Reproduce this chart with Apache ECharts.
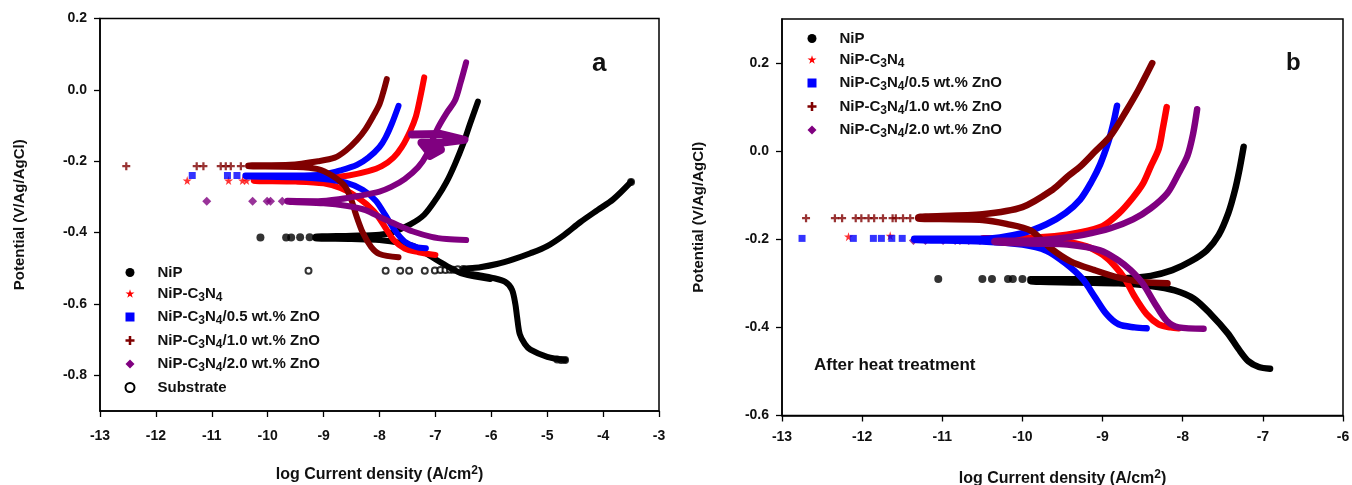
<!DOCTYPE html>
<html>
<head>
<meta charset="utf-8">
<title>Tafel curves</title>
<script src="https://cdn.jsdelivr.net/npm/echarts@6/dist/echarts.min.js"></script>
<style>
html,body{margin:0;padding:0;background:#fff}
#Chart{width:1352px;height:485px}
</style>
</head>
<body>
<div id="Chart"></div>
<script>
// ---- panel a (as deposited) ----
var aNiPDots=[[-10.13,-0.414],[-9.67,-0.414],[-9.58,-0.414],[-9.42,-0.413],[-9.25,-0.413]]
var aNiPAnodic=[[-9.15,-0.412],[-8.5,-0.409],[-8.0,-0.406],[-7.8,-0.401],[-7.45,-0.377],[-7.2,-0.35],[-6.97,-0.302],[-6.8,-0.258],[-6.65,-0.208],[-6.5,-0.15],[-6.38,-0.095],[-6.24,-0.033]]
var aNiPCathodic=[[-9.15,-0.416],[-8.5,-0.418],[-8.0,-0.421],[-7.4,-0.437],[-7.1,-0.465],[-6.8,-0.493],[-6.5,-0.516],[-6.02,-0.53]]

var aC3N4Dots=[[-11.44,-0.254],[-10.7,-0.254],[-10.45,-0.254],[-10.38,-0.254]]
var aC3N4Anodic=[[-10.25,-0.252],[-9.5,-0.251],[-9.0,-0.248],[-8.55,-0.24],[-8.2,-0.228],[-7.96,-0.214],[-7.75,-0.19],[-7.6,-0.16],[-7.45,-0.115],[-7.35,-0.075],[-7.27,-0.02],[-7.2,0.035]]
var aC3N4Cathodic=[[-10.25,-0.255],[-9.5,-0.257],[-9.0,-0.262],[-8.7,-0.275],[-8.4,-0.3],[-8.1,-0.34],[-7.9,-0.385],[-7.75,-0.42],[-7.55,-0.445],[-7.3,-0.455],[-7.0,-0.463]]

var aZnO05Dots=[[-11.35,-0.24],[-10.72,-0.24],[-10.55,-0.24]]
var aZnO05Anodic=[[-10.4,-0.24],[-9.5,-0.24],[-9.0,-0.237],[-8.68,-0.225],[-8.4,-0.21],[-8.2,-0.19],[-8.0,-0.16],[-7.89,-0.133],[-7.78,-0.095],[-7.66,-0.045]]
var aZnO05Cathodic=[[-10.4,-0.242],[-9.5,-0.245],[-9.0,-0.25],[-8.6,-0.26],[-8.3,-0.28],[-8.07,-0.31],[-7.9,-0.35],[-7.72,-0.395],[-7.55,-0.425],[-7.35,-0.44],[-7.17,-0.444]]

var aZnO10Dots=[[-12.53,-0.214],[-11.27,-0.214],[-11.15,-0.214],[-10.84,-0.214],[-10.75,-0.214],[-10.66,-0.214],[-10.48,-0.214]]
var aZnO10Anodic=[[-10.35,-0.212],[-9.6,-0.21],[-9.1,-0.2],[-8.8,-0.19],[-8.6,-0.17],[-8.4,-0.14],[-8.25,-0.11],[-8.1,-0.07],[-8.0,-0.04],[-7.93,-0.005],[-7.87,0.03]]
var aZnO10Cathodic=[[-10.35,-0.214],[-9.5,-0.216],[-9.1,-0.222],[-8.85,-0.24],[-8.62,-0.27],[-8.5,-0.31],[-8.42,-0.35],[-8.3,-0.4],[-8.15,-0.44],[-8.0,-0.46],[-7.66,-0.469]]

var aZnO20Dots=[[-11.09,-0.312],[-10.27,-0.312],[-10.01,-0.312],[-9.95,-0.312],[-9.74,-0.312]]
var aZnO20Anodic=[[-9.65,-0.311],[-9.1,-0.312],[-8.7,-0.306],[-8.37,-0.297],[-8.0,-0.285],[-7.79,-0.272],[-7.55,-0.25],[-7.31,-0.217],[-7.15,-0.18],[-7.05,-0.14],[-6.95,-0.105],[-6.8,-0.065],[-6.65,-0.03],[-6.55,0.02],[-6.45,0.077]]
var aZnO20Cathodic=[[-9.65,-0.313],[-9.0,-0.318],[-8.6,-0.325],[-8.25,-0.337],[-7.95,-0.36],[-7.66,-0.38],[-7.4,-0.397],[-7.07,-0.412],[-6.8,-0.418],[-6.45,-0.421]]
var aZnO20Noise=[[-7.42,-0.125],[-6.9,-0.124],[-6.48,-0.14],[-6.9,-0.148],[-7.25,-0.148],[-7.15,-0.168],[-6.9,-0.168],[-7.1,-0.185]]

var aSubDots=[[-9.27,-0.507],[-7.89,-0.507],[-7.63,-0.507],[-7.47,-0.507],[-7.19,-0.507],[-7.01,-0.506],[-6.91,-0.505],[-6.82,-0.505],[-6.74,-0.504],[-6.68,-0.504],[-6.6,-0.503],[-6.5,-0.502],[-3.5,-0.258],[-4.68,-0.757],[-4.75,-0.757],[-4.82,-0.756]]
var aSubAnodic=[[-6.5,-0.503],[-6.2,-0.497],[-5.9,-0.488],[-5.61,-0.475],[-5.3,-0.458],[-5.0,-0.438],[-4.7,-0.407],[-4.41,-0.371],[-4.1,-0.337],[-3.82,-0.307],[-3.5,-0.258]]
var aSubCathodic=[[-6.5,-0.51],[-6.2,-0.52],[-6.0,-0.526],[-5.75,-0.538],[-5.63,-0.56],[-5.57,-0.6],[-5.54,-0.635],[-5.49,-0.685],[-5.4,-0.712],[-5.3,-0.728],[-5.0,-0.748],[-4.68,-0.757]]

// ---- panel b (after heat treatment) ----
var bNiPDots=[[-11.05,-0.29],[-10.5,-0.29],[-10.38,-0.29],[-10.18,-0.29],[-10.12,-0.29],[-10.0,-0.29]]
var bNiPAnodic=[[-9.9,-0.291],[-9.3,-0.291],[-8.8,-0.289],[-8.4,-0.283],[-8.13,-0.27],[-7.9,-0.25],[-7.7,-0.225],[-7.55,-0.19],[-7.43,-0.14],[-7.35,-0.09],[-7.29,-0.04],[-7.24,0.01]]
var bNiPCathodic=[[-9.9,-0.295],[-9.3,-0.298],[-8.8,-0.3],[-8.4,-0.306],[-8.1,-0.316],[-7.86,-0.335],[-7.65,-0.37],[-7.44,-0.413],[-7.3,-0.45],[-7.18,-0.477],[-7.05,-0.49],[-6.91,-0.494]]

var bC3N4Dots=[[-12.17,-0.194],[-11.65,-0.192]]
var bC3N4Anodic=[[-10.5,-0.198],[-10.0,-0.197],[-9.6,-0.193],[-9.3,-0.185],[-9.0,-0.17],[-8.79,-0.14],[-8.62,-0.105],[-8.5,-0.075],[-8.4,-0.035],[-8.3,0.005],[-8.25,0.05],[-8.2,0.1]]
var bC3N4Cathodic=[[-10.5,-0.2],[-10.0,-0.2],[-9.5,-0.205],[-9.2,-0.216],[-9.0,-0.235],[-8.85,-0.26],[-8.72,-0.29],[-8.6,-0.33],[-8.45,-0.37],[-8.3,-0.393],[-8.15,-0.4],[-8.05,-0.402]]

var bZnO05Dots=[[-12.75,-0.198],[-12.11,-0.198],[-11.86,-0.198],[-11.76,-0.198],[-11.63,-0.198],[-11.5,-0.198]]
var bZnO05Anodic=[[-11.35,-0.199],[-10.5,-0.199],[-10.0,-0.186],[-9.7,-0.166],[-9.46,-0.14],[-9.28,-0.11],[-9.14,-0.07],[-9.03,-0.03],[-8.93,0.02],[-8.87,0.06],[-8.82,0.103]]
var bZnO05Cathodic=[[-11.35,-0.201],[-10.5,-0.205],[-10.0,-0.212],[-9.7,-0.226],[-9.46,-0.255],[-9.25,-0.29],[-9.1,-0.33],[-8.95,-0.37],[-8.8,-0.393],[-8.6,-0.4],[-8.45,-0.402]]

var bZnO10Dots=[[-12.7,-0.152],[-12.34,-0.152],[-12.25,-0.152],[-12.08,-0.152],[-12.01,-0.152],[-11.92,-0.152],[-11.85,-0.152],[-11.74,-0.152],[-11.62,-0.152],[-11.58,-0.152],[-11.49,-0.152],[-11.4,-0.152]]
var bZnO10Anodic=[[-11.3,-0.15],[-10.5,-0.143],[-10.0,-0.127],[-9.62,-0.087],[-9.44,-0.058],[-9.28,-0.035],[-9.1,-0.002],[-8.9,0.035],[-8.7,0.093],[-8.55,0.14],[-8.38,0.2]]
var bZnO10Cathodic=[[-11.3,-0.153],[-10.5,-0.156],[-10.2,-0.165],[-9.9,-0.18],[-9.65,-0.22],[-9.4,-0.25],[-9.1,-0.27],[-8.8,-0.287],[-8.5,-0.297],[-8.19,-0.3]]

var bZnO20Dots=[[-11.36,-0.203],[-11.21,-0.203],[-10.99,-0.203],[-10.84,-0.203],[-10.78,-0.203],[-10.67,-0.203],[-10.53,-0.203],[-10.45,-0.203]]
var bZnO20Anodic=[[-10.35,-0.204],[-9.87,-0.203],[-9.5,-0.197],[-9.24,-0.19],[-8.9,-0.175],[-8.62,-0.155],[-8.4,-0.13],[-8.19,-0.095],[-8.05,-0.05],[-7.94,-0.01],[-7.87,0.04],[-7.82,0.095]]
var bZnO20Cathodic=[[-10.35,-0.206],[-9.8,-0.21],[-9.44,-0.212],[-9.03,-0.225],[-8.8,-0.248],[-8.65,-0.27],[-8.5,-0.3],[-8.35,-0.345],[-8.2,-0.385],[-8.05,-0.4],[-7.74,-0.403]]

// ---- axes ticks ----
var aYTicks=[-0.8,-0.6,-0.4,-0.2,0,0.2]
var bYTicks=[-0.6,-0.4,-0.2,0,0.2]

var names=['NiP','NiP-C3N4','NiP-C3N4/0.5 wt.% ZnO','NiP-C3N4/1.0 wt.% ZnO','NiP-C3N4/2.0 wt.% ZnO','Substrate']
var colors=['#000000','#ff0000','#0000ff','#800000','#800080','#000000']

var FONT="'Liberation Sans', Arial, sans-serif"
var starPath='path://M50,0 L61,35 L98,35 L68,57 L79,91 L50,70 L21,91 L32,57 L2,35 L39,35 Z'
var plusPath='path://M36,0 H64 V36 H100 V64 H64 V100 H36 V64 H0 V36 H36 Z'
var symbols=['circle',starPath,'rect',plusPath,'diamond','emptyCircle']
var symSizes=[8,9,7,8,9,6]

//cathodic branch back to Ecorr, then anodic branch
function branch(cath,anod){
    return cath.slice().reverse().concat(anod)
}

function lineS(i,data,k,w,smooth){
    return {
        name:names[i],type:'line',xAxisIndex:k,yAxisIndex:k,
        data:data,showSymbol:false,smooth:smooth===undefined?0.3:smooth,silent:true,
        lineStyle:{color:colors[i],width:w||6.5,cap:'round',join:'round'},
        itemStyle:{color:colors[i]}
    }
}

function dotS(i,data,k){
    var s={
        name:names[i],type:'scatter',xAxisIndex:k,yAxisIndex:k,
        data:data,symbol:symbols[i],symbolSize:symSizes[i],
        itemStyle:{color:colors[i]}
    }
    if(i==5) s.itemStyle={color:'#000',borderColor:'#000',borderWidth:1.3}
    return s
}

function legendLabel(name){
    if(name=='NiP' || name=='Substrate') return '{a|'+name+'}'
    var rest=name.replace('NiP-C3N4','')
    return '{a|NiP-C}{s|3}{a|N}{s|4}'+(rest?'{a|'+rest+'}':'')
}

function drawChar(){
    var myChart=echarts.init(document.getElementById('Chart'))
    var series=[
        lineS(0,branch(aNiPCathodic,aNiPAnodic),0,6),dotS(0,aNiPDots,0),
        lineS(1,branch(aC3N4Cathodic,aC3N4Anodic),0,6),dotS(1,aC3N4Dots,0),
        lineS(2,branch(aZnO05Cathodic,aZnO05Anodic),0,6),dotS(2,aZnO05Dots,0),
        lineS(3,branch(aZnO10Cathodic,aZnO10Anodic),0,6),dotS(3,aZnO10Dots,0),
        lineS(4,branch(aZnO20Cathodic,aZnO20Anodic),0,6),lineS(4,aZnO20Noise,0,8,false),dotS(4,aZnO20Dots,0),
        lineS(5,branch(aSubCathodic,aSubAnodic),0,6),dotS(5,aSubDots,0),

        lineS(0,branch(bNiPCathodic,bNiPAnodic),1),dotS(0,bNiPDots,1),
        lineS(1,branch(bC3N4Cathodic,bC3N4Anodic),1),dotS(1,bC3N4Dots,1),
        lineS(2,branch(bZnO05Cathodic,bZnO05Anodic),1),dotS(2,bZnO05Dots,1),
        lineS(3,branch(bZnO10Cathodic,bZnO10Anodic),1),dotS(3,bZnO10Dots,1),
        lineS(4,branch(bZnO20Cathodic,bZnO20Anodic),1),dotS(4,bZnO20Dots,1)
    ]

    var axisLine={show:true,onZero:false,lineStyle:{color:'#000',width:1.5}}
    var labelStyle={color:'#111',fontFamily:FONT,fontWeight:'bold',fontSize:14}
    var nameStyle={color:'#111',fontFamily:FONT,fontWeight:'bold',fontSize:15}
    var xName='{a|log Current density (A/cm}{p|2}{a|)}'
    var xRich={a:{fontFamily:FONT,fontWeight:'bold',fontSize:16,lineHeight:20,color:'#111'},
               p:{fontFamily:FONT,fontWeight:'bold',fontSize:12,lineHeight:8,verticalAlign:'top',color:'#111'}}

    function xAxis(k,min,max,gap,margin){
        return {
            gridIndex:k,type:'value',min:min,max:max,interval:1,
            axisLine:axisLine,axisTick:{inside:false,length:6,lineStyle:{color:'#000',width:1.3}},
            axisLabel:Object.assign({margin:margin},labelStyle),splitLine:{show:false},
            name:xName,nameLocation:'middle',nameGap:gap,nameTextStyle:{rich:xRich}
        }
    }
    function yAxis(k,min,max,ticks,gap){
        return {
            gridIndex:k,type:'value',min:min,max:max,
            axisLine:axisLine,
            axisTick:{inside:false,length:6,customValues:ticks,lineStyle:{color:'#000',width:1.3}},
            axisLabel:Object.assign({margin:13,customValues:ticks,formatter:function(v){return v.toFixed(1)}},labelStyle),
            splitLine:{show:false},
            name:'Potential (V/Ag/AgCl)',nameLocation:'middle',nameGap:gap,nameTextStyle:nameStyle
        }
    }

    var legendRich={
        a:{fontFamily:FONT,fontWeight:'bold',fontSize:15,lineHeight:20,color:'#111'},
        s:{fontFamily:FONT,fontWeight:'bold',fontSize:12,lineHeight:12,verticalAlign:'bottom',color:'#111'}
    }
    function legend(left,top,list){
        return {
            orient:'vertical',left:left,top:top,padding:0,itemGap:6,
            itemWidth:9,itemHeight:9,
            data:list.map(function(i){return {name:names[i],icon:symbols[i]}}),
            formatter:legendLabel,
            textStyle:{rich:legendRich,padding:[0,0,0,18]}
        }
    }

    var option={
        animation:false,
        backgroundColor:'#fff',
        title:[
            {text:'a',left:592,top:51,padding:0,textStyle:{fontFamily:FONT,fontWeight:'bold',fontSize:26,color:'#111'}},
            {text:'b',left:1286,top:51,padding:0,textStyle:{fontFamily:FONT,fontWeight:'bold',fontSize:24,color:'#111'}},
            {text:'After heat treatment',left:814,top:357,padding:0,textStyle:{fontFamily:FONT,fontWeight:'bold',fontSize:17,color:'#111'}}
        ],
        legend:[legend(124.5,265,[0,1,2,3,4,5]),legend(807.5,31,[0,1,2,3,4])],
        grid:[
            {left:100,top:18.5,width:559,height:392.5,show:true,borderColor:'#000',borderWidth:1.5,outerBoundsMode:'none'},
            {left:782,top:19,width:561,height:396.5,show:true,borderColor:'#000',borderWidth:1.5,outerBoundsMode:'none'}
        ],
        xAxis:[xAxis(0,-13,-3,54,18),xAxis(1,-13,-6,53,15)],
        yAxis:[yAxis(0,-0.9,0.2,aYTicks,73),yAxis(1,-0.6,0.3,bYTicks,76)],
        series:series
    }
    myChart.setOption(option)
}

drawChar()
</script>
</body>
</html>
